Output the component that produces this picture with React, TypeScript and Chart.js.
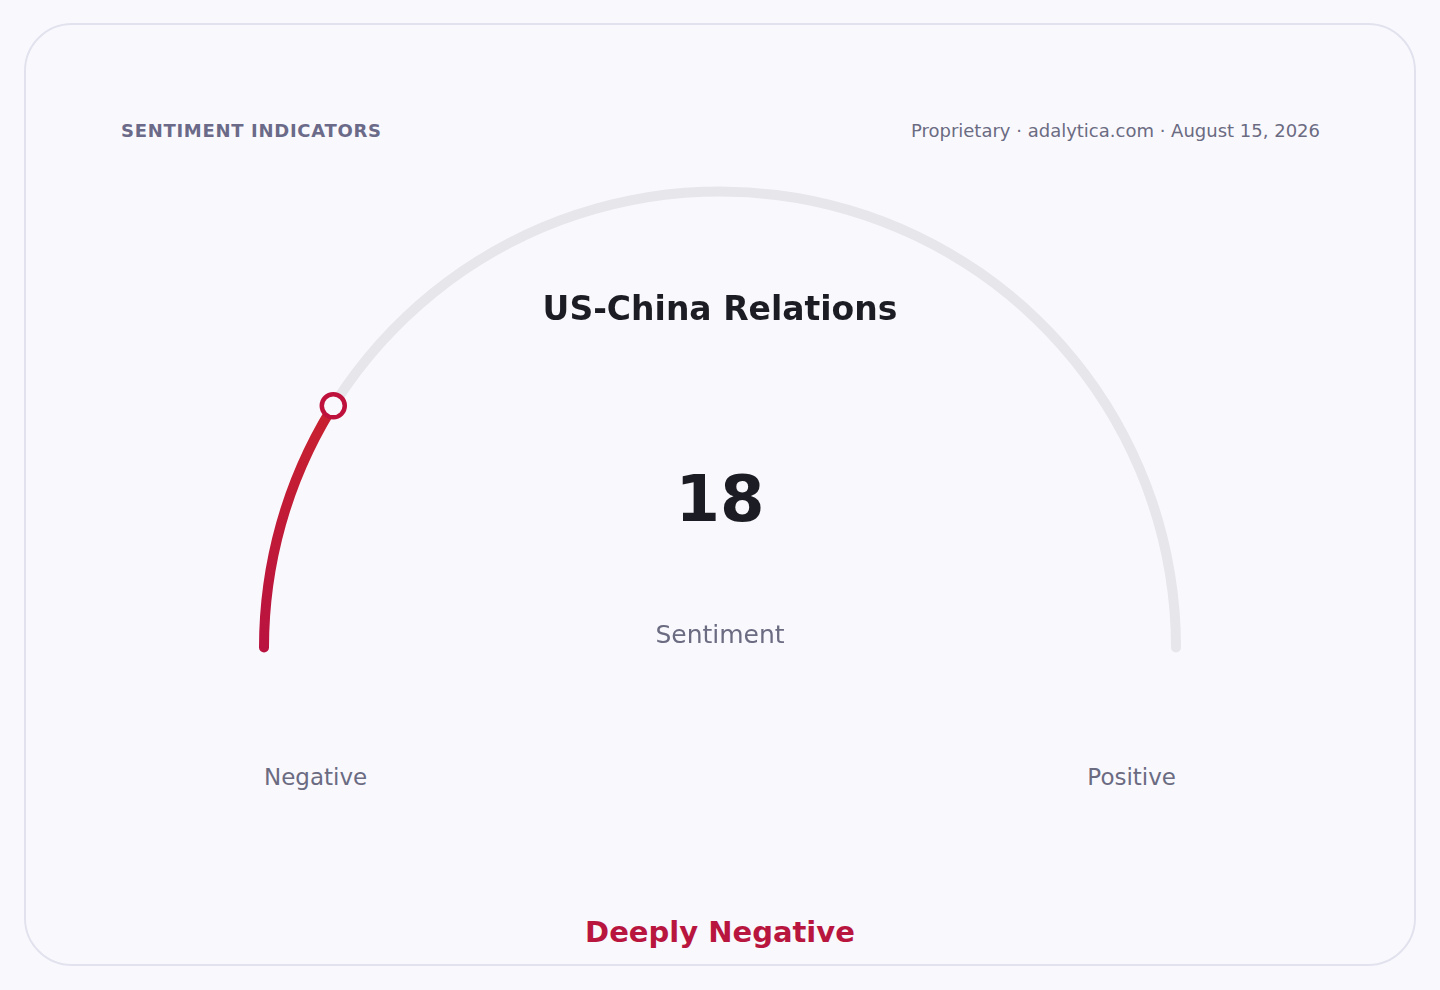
import { useEffect, useRef } from 'react';
import { Chart, registerables, Plugin } from 'chart.js';

Chart.register(...registerables);

// gauge data
const gaugeLabels = ['Sentiment', 'Remaining'];
const sentimentValue = 18;
const gaugeMax = 100;
const gaugeValues = [sentimentValue, gaugeMax - sentimentValue];

const headerText = 'SENTIMENT INDICATORS';
const sourceText = 'Proprietary · adalytica.com · August 15, 2026';
const chartTitle = 'US-China Relations';
const valueLabel = 'Sentiment';
const scaleLabels = ['Negative', 'Positive'];
const verdict = 'Deeply Negative';

const FONT = '"DejaVu Sans", Verdana, sans-serif';
const BG = '#f9f9fd';
const TRACK = '#e6e6eb';
const ROSE = '#be123c';
// the rounded ends poke a little past the horizontal, like a round line cap
const CAP_DEG = 0.63;

// ring marker drawn at the end of the value arc
const markerPlugin: Plugin<'doughnut'> = {
  id: 'gaugeMarker',
  afterDatasetsDraw(chart) {
    const arc = chart.getDatasetMeta(0).data[0] as any;
    if (!arc) return;
    const { x, y, endAngle, innerRadius, outerRadius } = arc.getProps(
      ['x', 'y', 'endAngle', 'innerRadius', 'outerRadius'],
      true
    );
    const r = (innerRadius + outerRadius) / 2;
    const ctx = chart.ctx;
    ctx.save();
    ctx.beginPath();
    ctx.arc(x + Math.cos(endAngle) * r, y + Math.sin(endAngle) * r, 11.5, 0, Math.PI * 2);
    ctx.fillStyle = BG;
    ctx.fill();
    ctx.lineWidth = 4.5;
    ctx.strokeStyle = ROSE;
    ctx.stroke();
    ctx.restore();
  },
};

function Gauge() {
  const chartRef = useRef<HTMLCanvasElement>(null);
  const chartInstance = useRef<Chart | null>(null);

  useEffect(() => {
    if (!chartRef.current) return;
    if (chartInstance.current) chartInstance.current.destroy();
    const ctx = chartRef.current.getContext('2d');
    if (!ctx) return;

    chartInstance.current = new Chart(ctx, {
      type: 'doughnut',
      data: {
        labels: gaugeLabels,
        datasets: [
          {
            data: gaugeValues,
            backgroundColor: (c: any) => {
              if (c.dataIndex !== 0) return TRACK;
              const area = c.chart.chartArea;
              if (!area) return ROSE;
              // red arc turns slightly warmer toward its tip
              const g = c.chart.ctx.createLinearGradient(0, area.bottom, 0, area.bottom - 250);
              g.addColorStop(0, '#b91240');
              g.addColorStop(1, '#c8222f');
              return g;
            },
            borderWidth: 0,
            borderRadius: 5,
          },
        ],
      },
      options: {
        animation: false,
        responsive: false,
        maintainAspectRatio: false,
        rotation: -90 - CAP_DEG,
        circumference: 180 + 2 * CAP_DEG,
        cutout: '97.83%',
        layout: { padding: 20 },
        events: [],
        plugins: {
          legend: { display: false },
          tooltip: { enabled: false },
        },
      },
      plugins: [markerPlugin],
    });

    return () => {
      if (chartInstance.current) {
        chartInstance.current.destroy();
        chartInstance.current = null;
      }
    };
  }, []);

  return (
    <canvas
      ref={chartRef}
      width={962}
      height={507}
      style={{ position: 'absolute', left: 239, top: 166, width: 962, height: 507 }}
    />
  );
}

const text = (
  content: string,
  size: number,
  baseline: number,
  extra: React.CSSProperties
) => (
  <div
    style={{
      position: 'absolute',
      top: baseline - 0.846 * size,
      fontSize: size,
      lineHeight: 1,
      fontFamily: FONT,
      whiteSpace: 'nowrap',
      ...extra,
    }}
  >
    {content}
  </div>
);

export default function App() {
  return (
    <div
      style={{
        position: 'absolute',
        left: 0,
        top: 0,
        width: 1440,
        height: 990,
        background: BG,
        overflow: 'hidden',
      }}
    >
      <div
        style={{
          position: 'absolute',
          left: 24,
          top: 23,
          width: 1388,
          height: 939,
          border: '2px solid #e2e2ee',
          borderRadius: 48,
          background: BG,
        }}
      />
      {text(headerText, 18, 137, {
        left: 121,
        fontWeight: 'bold',
        color: '#6b6a88',
        letterSpacing: 0.7,
      })}
      {text(sourceText, 18, 137, { right: 120, color: '#6b6b82' })}
      <Gauge />
      {text(chartTitle, 33, 320, {
        left: 0,
        width: 1440,
        textAlign: 'center',
        fontWeight: 'bold',
        color: '#1c1c24',
      })}
      {text(String(sentimentValue), 64, 521, {
        left: 0,
        width: 1440,
        textAlign: 'center',
        fontWeight: 'bold',
        color: '#1c1c24',
      })}
      {text(valueLabel, 25, 643, {
        left: 0,
        width: 1440,
        textAlign: 'center',
        color: '#6b6b82',
      })}
      {text(scaleLabels[0], 23, 785, { left: 264, color: '#6b6b82' })}
      {text(scaleLabels[1], 23, 785, { right: 1440 - 1176, color: '#6b6b82' })}
      {text(verdict, 29, 943, {
        left: 0,
        width: 1440,
        textAlign: 'center',
        fontWeight: 'bold',
        color: '#b8163f',
      })}
    </div>
  );
}
